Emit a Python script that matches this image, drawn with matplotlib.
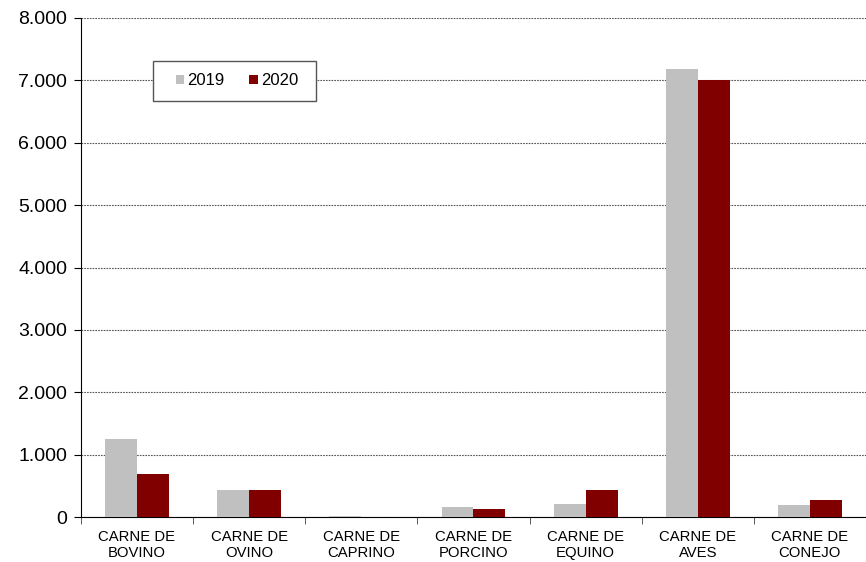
import numpy as np
import matplotlib.pyplot as plt
from matplotlib.patches import Rectangle
from matplotlib.ticker import FuncFormatter

plt.rcParams['font.family'] = ['Liberation Sans', 'DejaVu Sans']

categories = ['CARNE DE\nBOVINO', 'CARNE DE\nOVINO', 'CARNE DE\nCAPRINO', 'CARNE DE\nPORCINO',
              'CARNE DE\nEQUINO', 'CARNE DE\nAVES', 'CARNE DE\nCONEJO']
values_2019 = [1262, 433, 15, 160, 208, 7184, 192]
values_2020 = [700, 440, 3, 140, 433, 6997, 272]

fig = plt.figure(figsize=(8.66, 5.62), dpi=100)
ax = fig.add_axes([0.0935, 0.0795, 0.9065, 0.889])

x = np.arange(len(categories))
w = 0.285
ax.bar(x - w / 2, values_2019, w, color='#c0c0c0', label='2019', zorder=3)
ax.bar(x + w / 2, values_2020, w, color='#800000', label='2020', zorder=3)

ax.set_xlim(-0.5, len(categories) - 0.5)
ax.set_ylim(0, 8000)
ax.set_yticks(range(0, 8001, 1000))
ax.yaxis.set_major_formatter(FuncFormatter(lambda v, p: f'{int(v):,}'.replace(',', '.')))
ax.yaxis.grid(True, color='#555555', linestyle=(0, (1.5, 1)), linewidth=0.8, zorder=0)

ax.set_xticks(x)
ax.set_xticklabels(categories, fontsize=10.7)
ax.set_xticks(np.arange(-0.5, len(categories), 1), minor=True)
ax.tick_params(axis='x', which='major', length=0, pad=9)
ax.tick_params(axis='x', which='minor', length=5, color='#444444')
ax.tick_params(axis='y', labelsize=14, length=5, pad=5)

for s in ['top', 'right']:
    ax.spines[s].set_visible(False)
ax.spines['left'].set_color('black')
ax.spines['bottom'].set_color('black')

# legend box drawn separately (wide horizontal padding like the original)
ax.add_patch(Rectangle((0.0917, 0.8337), 0.2077, 0.0801, transform=ax.transAxes,
                       facecolor='white', edgecolor='#555555', linewidth=1.0, zorder=4))
leg = ax.legend(loc='center', bbox_to_anchor=(0.1987, 0.8737), ncol=2, fontsize=12,
                frameon=False, handlelength=0.5, handleheight=0.5, handletextpad=0.2,
                columnspacing=1.5, borderpad=0, borderaxespad=0)
leg.set_zorder(5)

fig.savefig('out.png', dpi=100)
